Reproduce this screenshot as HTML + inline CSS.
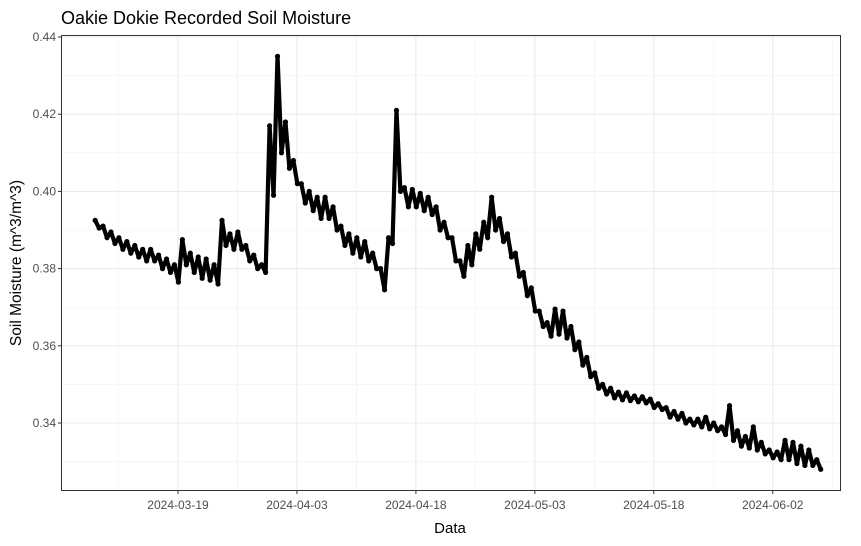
<!DOCTYPE html>
<html><head><meta charset="utf-8"><style>
body{margin:0;background:#fff}
svg{font-family:"Liberation Sans",sans-serif}
</style></head><body>
<svg id="c" width="861" height="541">
<text x="61" y="24" font-size="18" fill="#000">Oakie Dokie Recorded Soil Moisture</text>
<g id="grid"></g>
<g id="series"></g>
<rect x="61.5" y="35.5" width="779" height="455" fill="none" stroke="#333" stroke-width="1"/>
<g id="axes"></g>
<text x="450" y="533" font-size="15" text-anchor="middle">Data</text>
<text transform="translate(21,263) rotate(-90)" font-size="15.5" text-anchor="middle">Soil Moisture (m^3/m^3)</text>
</svg>
<script>
// day index 0 = 2024-03-08; values alternate daily high, daily low
const dailyHigh = [.3925,.391,.3895,.388,.387,.386,.385,.385,.3835,.3825,.381,.3875,.384,.383,.3825,.381,.3925,.389,.3895,.386,.3835,.381,.417,.435,.418,.408,.402,.400,.3985,.3985,.396,.391,.389,.388,.387,.384,.380,.388,.421,.401,.4005,.3995,.3985,.396,.392,.388,.382,.386,.389,.392,.3985,.393,.389,.384,.379,.375,.369,.366,.3695,.369,.365,.361,.357,.353,.350,.349,.348,.3478,.347,.3468,.3462,.345,.344,.343,.3425,.341,.341,.3415,.340,.339,.3445,.338,.3365,.339,.335,.333,.3325,.3355,.335,.334,.333,.3305];
const dailyLow = [.3905,.388,.3865,.385,.384,.383,.382,.382,.380,.379,.3765,.381,.379,.3775,.377,.376,.386,.385,.385,.382,.380,.379,.399,.410,.406,.402,.397,.395,.393,.393,.390,.386,.384,.383,.382,.380,.3745,.3865,.400,.396,.396,.395,.394,.390,.388,.382,.378,.381,.385,.388,.390,.387,.383,.378,.373,.369,.365,.3625,.363,.362,.359,.355,.352,.349,.3475,.3465,.346,.3458,.3455,.3452,.344,.3435,.3415,.341,.340,.3395,.339,.3385,.338,.337,.3355,.334,.3335,.333,.332,.331,.3305,.3305,.3295,.329,.329,.328];
const yTicks = [0.34,0.36,0.38,0.40,0.42,0.44];
const yTickLabels = ["0.34","0.36","0.38","0.40","0.42","0.44"];
const xTickDays = [11,26,41,56,71,86];
const xTickLabels = ["2024-03-19","2024-04-03","2024-04-18","2024-05-03","2024-05-18","2024-06-02"];

const NS="http://www.w3.org/2000/svg";
function yS(v){return 423-(v-0.34)*3860;}
function xS(d){return 178+(d-11)*7.93;}
function mk(tag,attrs,parent){const e=document.createElementNS(NS,tag);for(const k in attrs)e.setAttribute(k,attrs[k]);parent.appendChild(e);return e;}
const grid=document.getElementById('grid'),axes=document.getElementById('axes'),ser=document.getElementById('series');
for(let i=0;i<yTicks.length;i++){
  const y=yS(yTicks[i]);
  const l=mk('line',{x1:61,x2:840,y1:y,y2:y,stroke:'#ebebeb','stroke-width':1.1},grid);
  
  
  if(i<yTicks.length-1){const ym=yS((yTicks[i]+yTicks[i+1])/2);
    const m=mk('line',{x1:61,x2:840,y1:ym,y2:ym,stroke:'#f2f2f2','stroke-width':0.6},grid);
    
    }
  const t=mk('line',{x1:58,x2:61,y1:y,y2:y,stroke:'#333'},axes);
  
  
  const tx=mk('text',{x:56,y:y+4,'font-size':12,fill:'#4d4d4d','text-anchor':'end'},axes);
  tx.textContent=yTickLabels[i];
  
  
}
{const ym=yS(0.33);const m=mk('line',{x1:61,x2:840,y1:ym,y2:ym,stroke:'#f2f2f2','stroke-width':0.6},grid);
 
 }
for(let i=0;i<xTickDays.length;i++){
  const x=xS(xTickDays[i]);
  const l=mk('line',{x1:x,x2:x,y1:35,y2:491,stroke:'#ebebeb','stroke-width':1.1},grid);
  
  
  [-7.5,7.5].forEach(o=>{const xm=xS(xTickDays[i]+o);if(xm>61&&xm<840){
    const m=mk('line',{x1:xm,x2:xm,y1:35,y2:491,stroke:'#f2f2f2','stroke-width':0.6},grid);
    
    }});
  const t=mk('line',{x1:x,x2:x,y1:491,y2:494,stroke:'#333'},axes);
  
  
  const tx=mk('text',{x:x,y:509,'font-size':12,fill:'#4d4d4d','text-anchor':'middle'},axes);
  tx.textContent=xTickLabels[i];
  
  
}
const pts=[];
for(let d=0;d<dailyHigh.length;d++){
  pts.push([xS(d+0.55),yS(dailyHigh[d])]);
  pts.push([xS(d+1.05),yS(dailyLow[d])]);
}
const pl=mk('polyline',{points:pts.map(p=>p.join(',')).join(' '),fill:'none',stroke:'#000','stroke-width':4.2,'stroke-linejoin':'round'},ser);


pts.forEach(p=>{const c=mk('circle',{cx:p[0],cy:p[1],r:2.6,fill:'#000'},ser);
  
  });
</script>
</body></html>
